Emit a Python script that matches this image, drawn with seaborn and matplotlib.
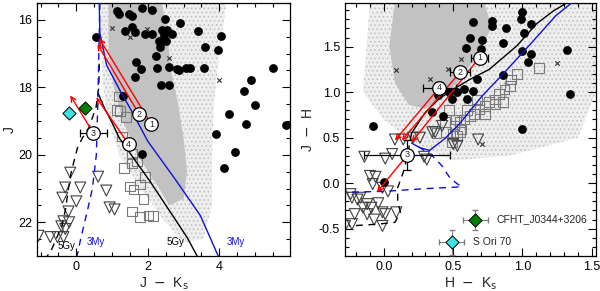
import numpy as np
import seaborn as sns
import matplotlib
matplotlib.use("Agg")
from matplotlib import pyplot as plt
from matplotlib.patches import Polygon
from matplotlib.ticker import MultipleLocator, FormatStrFormatter

# ---------------- lijevi panel: J-Ks vs J ----------------
left_dots_x = [1.14, 1.20, 1.47, 1.56, 1.84, 2.12, 2.49, 2.91, 1.37, 1.56, 1.65, 1.93, 2.12, 2.40, 2.55,
               2.44, 2.68, 3.41, 4.06, 2.30, 2.52, 2.35, 3.61, 3.97, 2.24, 1.68, 1.82, 1.63, 2.26, 2.60,
               2.82, 2.86, 3.08, 3.18, 3.56, 5.50, 2.38, 2.58, 4.90, 4.70, 1.30, 5.00, 4.28, 4.76, 5.87,
               3.91, 1.84, 4.45, 4.14, 0.55]
left_dots_y = [15.73, 15.83, 15.83, 15.88, 15.64, 15.71, 15.98, 16.08, 16.34, 16.22, 16.37, 16.42, 16.42, 16.30, 16.30,
               16.45, 16.42, 16.32, 16.47, 16.62, 16.62, 16.81, 16.81, 16.90, 17.06, 17.26, 17.47, 17.68, 17.44, 17.41,
               17.45, 17.50, 17.42, 17.44, 17.42, 17.44, 17.94, 17.92, 17.79, 18.10, 18.26, 18.53, 18.79, 19.09, 19.13,
               19.38, 19.97, 19.91, 20.38, 16.50]
left_cross_x = [1.00, 1.51, 1.98, 2.60, 4.00]
left_cross_y = [16.24, 16.50, 16.27, 17.12, 17.79]
left_sq_x = [1.18, 1.14, 1.23, 1.40, 1.28, 1.56, 1.70, 1.34, 1.93, 1.51, 1.60, 1.79, 1.88, 1.56, 1.79, 2.02, 2.15, 1.56]
left_sq_y = [18.27, 18.68, 18.70, 18.88, 19.46, 19.97, 20.20, 20.38, 20.65, 20.94, 21.03, 20.88, 21.32, 21.68, 21.85,
             21.80, 21.82, 20.24]
left_tri_x = [-0.17, 0.61, -0.31, 0.11, 0.84, -0.39, 0.00, -0.22, 0.93, 1.07, -0.36, -0.20, -0.42, -0.31, -0.73,
              -0.53, -0.36, -1.06]
left_tri_y = [20.53, 20.65, 20.97, 20.97, 21.06, 21.27, 21.38, 21.68, 21.56, 21.62, 21.97, 22.00, 22.12, 22.20, 22.44,
              22.44, 22.44, 22.40]

# izokrone (3My plavo, 5Gy crno)
left_3my_x = [0.64, 0.66, 0.85, 1.25, 1.60, 2.00, 2.75, 3.47, 3.97]
left_3my_y = [15.5, 16.4, 17.35, 18.15, 18.8, 19.6, 20.7, 21.8, 23.0]
left_3my_d_x = [0.66, 0.63, 0.60, 0.56, 0.45, 0.30, 0.12, 0.02]
left_3my_d_y = [15.5, 17.0, 18.5, 20.0, 21.0, 21.7, 22.5, 23.0]
left_5gy_x = [0.62, 0.78, 0.98, 1.20, 2.07, 3.10, 3.38]
left_5gy_y = [18.2, 18.6, 19.0, 19.5, 20.8, 22.45, 23.0]
left_5gy_d_x = [0.64, 0.63, 0.55, 0.35, 0.17, 0.03, -0.14, -0.22, -0.30, -0.40, -0.73, -0.82]
left_5gy_d_y = [17.3, 18.0, 18.6, 19.2, 19.5, 19.8, 20.5, 21.0, 21.6, 22.1, 22.9, 23.0]

# oblak polja (obrisi procijenjeni sa slike)
left_cloud_x = [0.70, 4.20, 4.00, 3.85, 3.80, 3.80, 3.55, 3.00, 2.50, 1.80, 1.20, 0.90, 0.75, 0.70]
left_cloud_y = [15.5, 15.5, 17.0, 18.5, 20.0, 21.5, 22.5, 22.6, 22.0, 21.0, 20.0, 19.0, 18.0, 17.0]
left_core_x = [0.90, 2.40, 2.55, 2.65, 2.85, 3.00, 3.10, 3.00, 2.60, 2.20, 1.70, 1.30, 1.05, 0.90]
left_core_y = [15.5, 15.5, 16.5, 17.5, 18.5, 19.5, 20.5, 21.3, 21.5, 20.8, 20.0, 19.0, 18.0, 17.0]

# numerirani objekti
num_labels = ["1", "2", "3", "4"]
left_num_x = [2.10, 1.76, 0.48, 1.46]
left_num_y = [19.10, 18.80, 19.36, 19.68]
left_num_xerr = [0.0, 0.0, 0.38, 0.0]
left_arrow_x = [0.64, 0.59, -0.17, 0.56]
left_arrow_y = [16.55, 16.72, 18.24, 18.30]

left_diam_x = [-0.20, 0.25]
left_diam_y = [18.77, 18.62]

# ---------------- desni panel: H-Ks vs J-H ----------------
right_dots_x = [0.64, 0.78, 0.78, 0.88, 1.00, 0.99, 1.06, 1.01, 0.62, 0.71, 0.86, 0.59, 0.70, 1.00, 1.06, 1.04,
                1.32, 0.67, 0.86, 0.58, 0.64, 0.53, 0.60, 0.47, 0.49, 1.34, 1.00, 0.43, -0.08, 0.39, 0.35, 0.00]
right_dots_y = [1.77, 1.78, 1.73, 1.70, 1.88, 1.80, 1.75, 1.65, 1.60, 1.57, 1.54, 1.49, 1.47, 1.45, 1.42, 1.33,
                1.46, 1.15, 1.19, 1.04, 1.01, 1.00, 0.93, 1.00, 0.92, 0.98, 0.60, 0.74, 0.63, 0.97, 0.78, 0.01]
right_cross_x = [0.09, 0.33, 0.46, 0.56, 1.25, 0.71]
right_cross_y = [1.24, 1.14, 1.25, 1.37, 1.32, 0.43]
right_sq_x = [0.96, 0.92, 0.91, 0.87, 0.83, 0.80, 0.76, 0.73, 0.69, 0.65, 0.62, 0.58, 0.55, 0.51, 0.45, 0.56,
              0.50, 1.12, 0.44, 0.55, 0.49, 0.38, 0.80, 0.86, 0.73, 0.52, 0.53, 0.47, 0.60, 0.67]
right_sq_y = [1.20, 1.14, 1.07, 1.03, 0.98, 0.92, 0.89, 0.85, 0.81, 0.76, 0.74, 0.70, 0.67, 0.63, 0.56, 0.59,
              0.54, 1.27, 0.67, 0.56, 0.45, 0.55, 0.87, 0.89, 0.76, 0.70, 0.52, 0.80, 0.80, 0.92]
right_tri_x = [0.08, 0.06, -0.14, 0.01, 0.29, 0.50, 0.35, 0.26, -0.06, -0.08, -0.01, -0.24, -0.19, -0.12, -0.23,
               -0.17, -0.15, -0.09, -0.21, -0.12, -0.01, 0.01, 0.09, -0.23, -0.01, -0.28, -0.10, 0.03, 0.31, 0.53,
               0.68, 0.42, 0.37, 0.21, 0.14, -0.04, -0.07]
right_tri_y = [0.48, 0.32, 0.29, 0.27, 0.29, 0.43, 0.56, 0.50, 0.07, -0.01, -0.05, -0.12, -0.18, -0.23, -0.16,
               -0.16, -0.27, -0.27, -0.34, -0.34, -0.32, -0.34, -0.32, -0.45, -0.47, -0.47, 0.08, -0.09, 0.26, 0.41,
               0.48, 0.63, 0.56, 0.50, 0.48, -0.22, -0.40]

right_3my_x = [0.20, 0.26, 0.33, 0.44, 0.55, 0.71, 0.86, 1.07, 1.24, 1.37]
right_3my_y = [0.44, 0.39, 0.36, 0.49, 0.66, 0.96, 1.20, 1.55, 1.84, 2.00]
right_3my_d_x = [0.25, 0.35, 0.42, 0.48, 0.56, 0.30, 0.00, -0.28]
right_3my_d_y = [0.40, 0.30, 0.19, 0.05, -0.04, -0.06, -0.09, -0.10]
right_5gy_x = [0.20, 0.30, 0.40, 0.50, 0.62, 0.76, 0.96, 1.10, 1.22, 1.34]
right_5gy_y = [0.55, 0.78, 0.93, 1.03, 1.14, 1.25, 1.51, 1.75, 1.89, 2.00]
right_5gy_d_x = [0.20, 0.17, 0.14, 0.10, 0.10, 0.12, 0.08, -0.04, -0.25]
right_5gy_d_y = [0.55, 0.30, 0.12, -0.05, -0.20, -0.32, -0.43, -0.45, -0.47]

right_cloud_x = [-0.10, 1.53, 1.53, 1.40, 0.90, 0.50, 0.20, 0.00, -0.15]
right_cloud_y = [2.00, 2.00, 1.00, 0.50, 0.30, 0.25, 0.45, 0.70, 1.00]
right_core_x = [0.08, 0.72, 0.78, 0.68, 0.54, 0.42, 0.30, 0.18, 0.08, 0.04]
right_core_y = [2.00, 2.00, 1.72, 1.42, 1.12, 0.93, 0.82, 0.86, 1.10, 1.50]

right_num_x = [0.69, 0.55, 0.17, 0.40]
right_num_y = [1.38, 1.22, 0.31, 1.05]
right_num_xerr = [0.06, 0.07, 0.31, 0.12]
right_num_yerr = [0.0, 0.0, 0.16, 0.06]
right_arrow_x = [0.20, 0.13, -0.05, 0.08]
right_arrow_y = [0.45, 0.47, -0.10, 0.47]

right_diam_x = [0.49, 0.66]
right_diam_y = [-0.65, -0.40]
right_diam_xerr = [0.09, 0.09]
right_diam_yerr = [0.14, 0.11]
diam_names = ["S Ori 70", "CFHT_J0344+3206"]
diam_colors = ["#40e0e0", "#008000"]

# ---------------- crtanje ----------------
sns.set_theme(style="ticks")
plt.rcParams["font.family"] = ["Liberation Sans", "DejaVu Sans"]
plt.rcParams["hatch.color"] = "#bdbdbd"
plt.rcParams["hatch.linewidth"] = 0.6

fig = plt.figure(figsize=(6.0, 2.91), dpi=100)
axL = fig.add_axes([0.0617, 0.1203, 0.4217, 0.8694])
axR = fig.add_axes([0.575, 0.1203, 0.4183, 0.8694])

red = "#ff0000"
blue = "#1010d0"
dash = (0, (5, 4))


def draw_cloud(ax, ox, oy, cx, cy):
    ax.add_patch(Polygon(np.column_stack([ox, oy]), closed=True, facecolor="#eeeeee",
                         edgecolor="#bdbdbd", hatch="....", lw=0, zorder=0))
    ax.add_patch(Polygon(np.column_stack([cx, cy]), closed=True, facecolor="#c2c2c2",
                         lw=0, zorder=0.5))


def draw_points(ax, dx, dy, kx, ky, sx, sy, tx, ty):
    sns.scatterplot(x=sx, y=sy, ax=ax, marker="s", s=50, facecolor="none", edgecolor="#7a7a7a",
                    linewidth=0.8, zorder=2)
    sns.scatterplot(x=tx, y=ty, ax=ax, marker="v", s=62, facecolor="none", edgecolor="#404040",
                    linewidth=0.8, zorder=2)
    sns.scatterplot(x=dx, y=dy, ax=ax, marker="o", s=40, color="black", linewidth=0, zorder=3)
    sns.scatterplot(x=kx, y=ky, ax=ax, marker="x", s=10, color="#303030", linewidth=0.8, zorder=3)


def draw_lines(ax, bx, by, bdx, bdy, kx, ky, kdx, kdy):
    sns.lineplot(x=kx, y=ky, ax=ax, sort=False, estimator=None, color="black", lw=1.0, zorder=4)
    sns.lineplot(x=kdx, y=kdy, ax=ax, sort=False, estimator=None, color="black", lw=1.0,
                 linestyle=dash, zorder=4)
    sns.lineplot(x=bx, y=by, ax=ax, sort=False, estimator=None, color=blue, lw=1.0, zorder=4)
    sns.lineplot(x=bdx, y=bdy, ax=ax, sort=False, estimator=None, color=blue, lw=1.0,
                 linestyle=dash, zorder=4)


def draw_numbered(ax, nx, ny, ax_, ay_, xerr, yerr):
    for x0, y0, x1, y1 in zip(nx, ny, ax_, ay_):
        ax.annotate("", xy=(x1, y1), xytext=(x0, y0),
                    arrowprops=dict(arrowstyle="->", color=red, lw=1.0, mutation_scale=9,
                                    shrinkA=0, shrinkB=0), zorder=5)
    ax.errorbar(nx, ny, xerr=xerr, yerr=yerr, fmt="none", ecolor="black", elinewidth=0.9,
                capsize=3, capthick=0.9, zorder=5)
    sns.scatterplot(x=nx, y=ny, ax=ax, marker="o", s=95, facecolor="white", edgecolor="black",
                    linewidth=0.9, zorder=6)
    for lab, x0, y0 in zip(num_labels, nx, ny):
        ax.text(x0, y0, lab, ha="center", va="center", fontsize=6.5, zorder=7)


def style_axes(ax, xmaj, xmin, ymaj, ymin):
    ax.xaxis.set_major_locator(MultipleLocator(xmaj))
    ax.xaxis.set_minor_locator(MultipleLocator(xmin))
    ax.yaxis.set_major_locator(MultipleLocator(ymaj))
    ax.yaxis.set_minor_locator(MultipleLocator(ymin))
    ax.tick_params(which="both", direction="in", top=True, right=True, labelsize=9,
                   width=0.8, colors="black")
    ax.tick_params(which="major", length=6)
    ax.tick_params(which="minor", length=3)
    for s in ax.spines.values():
        s.set_visible(True)
        s.set_linewidth(0.9)
        s.set_color("black")


# lijevi
draw_cloud(axL, left_cloud_x, left_cloud_y, left_core_x, left_core_y)
draw_points(axL, left_dots_x, left_dots_y, left_cross_x, left_cross_y, left_sq_x, left_sq_y,
            left_tri_x, left_tri_y)
draw_lines(axL, left_3my_x, left_3my_y, left_3my_d_x, left_3my_d_y,
           left_5gy_x, left_5gy_y, left_5gy_d_x, left_5gy_d_y)
draw_numbered(axL, left_num_x, left_num_y, left_arrow_x, left_arrow_y, left_num_xerr, None)
for x0, y0, c in zip(left_diam_x, left_diam_y, diam_colors):
    axL.scatter(x0, y0, marker="D", s=45, color=c, edgecolor="black", linewidth=0.7, zorder=6)
axL.text(-0.28, 22.7, "5Gy", color="black", fontsize=7, ha="center", va="center")
axL.text(0.55, 22.6, "3My", color=blue, fontsize=7, ha="center", va="center")
axL.text(2.77, 22.6, "5Gy", color="black", fontsize=7, ha="center", va="center")
axL.text(4.45, 22.6, "3My", color=blue, fontsize=7, ha="center", va="center")
axL.set_xlim(-1.1, 5.98)
axL.set_ylim(23.0, 15.5)
style_axes(axL, 2, 0.5, 2, 0.5)
axL.set_xlabel("J  $-$  K$_{\\rm s}$", fontsize=10, labelpad=2)
axL.set_ylabel("J", fontsize=10, labelpad=1)

# desni
draw_cloud(axR, right_cloud_x, right_cloud_y, right_core_x, right_core_y)
draw_points(axR, right_dots_x, right_dots_y, right_cross_x, right_cross_y, right_sq_x, right_sq_y,
            right_tri_x, right_tri_y)
draw_lines(axR, right_3my_x, right_3my_y, right_3my_d_x, right_3my_d_y,
           right_5gy_x, right_5gy_y, right_5gy_d_x, right_5gy_d_y)
draw_numbered(axR, right_num_x, right_num_y, right_arrow_x, right_arrow_y, right_num_xerr, right_num_yerr)
for x0, y0, xe, ye, c, name in zip(right_diam_x, right_diam_y, right_diam_xerr, right_diam_yerr,
                                    diam_colors, diam_names):
    axR.errorbar(x0, y0, xerr=xe, yerr=ye, fmt="none", ecolor="#808080", elinewidth=0.8,
                 capsize=2.5, zorder=5)
    axR.scatter(x0, y0, marker="D", s=45, color=c, edgecolor="black", linewidth=0.7, zorder=6)
    axR.text(x0 + 0.15, y0, name, fontsize=7.5, ha="left", va="center")
axR.set_xlim(-0.28, 1.53)
axR.set_ylim(-0.8, 1.98)
style_axes(axR, 0.5, 0.1, 0.5, 0.1)
axR.xaxis.set_major_formatter(FormatStrFormatter("%.1f"))
axR.yaxis.set_major_formatter(FormatStrFormatter("%.1f"))
axR.set_xlabel("H  $-$  K$_{\\rm s}$", fontsize=10, labelpad=2)
axR.set_ylabel("J  $-$  H", fontsize=10, labelpad=3)

fig.savefig("out.png", dpi=100)
